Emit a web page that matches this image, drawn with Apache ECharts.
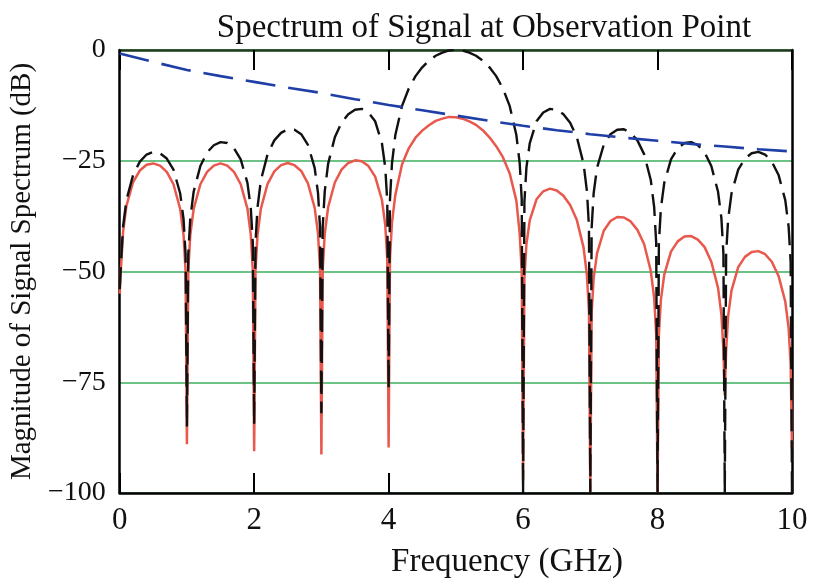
<!DOCTYPE html>
<html>
<head>
<meta charset="utf-8">
<script src="https://cdn.jsdelivr.net/npm/echarts@6/dist/echarts.min.js"></script>
<style>
  html, body { margin: 0; padding: 0; background: #ffffff; }
  #chart { width: 813px; height: 580px; }
</style>
</head>
<body>
<div id="chart"></div>
<script>
// Frequency samples (GHz)
const freq = [
  0,0.02,0.05,0.1,0.2,0.3,0.4,0.5,0.6,0.7,0.8,0.9,0.95,0.98,
  1,1.02,1.05,1.1,1.2,1.3,1.4,1.5,1.6,1.7,1.8,1.9,1.95,1.98,
  2,2.02,2.05,2.1,2.2,2.3,2.4,2.5,2.6,2.7,2.8,2.9,2.95,2.98,
  3,3.02,3.05,3.1,3.2,3.3,3.4,3.5,3.6,3.7,3.8,3.9,3.95,3.98,
  4,4.02,4.05,4.1,4.2,4.3,4.4,4.5,4.6,4.7,4.8,4.9,5,5.1,5.2,5.3,5.4,5.5,5.6,5.7,5.8,5.9,5.95,5.98,
  6,6.02,6.05,6.1,6.2,6.3,6.4,6.5,6.6,6.7,6.8,6.9,6.95,6.98,
  7,7.02,7.05,7.1,7.2,7.3,7.4,7.5,7.6,7.7,7.8,7.9,7.95,7.98,
  8,8.02,8.05,8.1,8.2,8.3,8.4,8.5,8.6,8.7,8.8,8.9,8.95,8.98,
  9,9.02,9.05,9.1,9.2,9.3,9.4,9.5,9.6,9.7,9.8,9.9,9.95,9.98,
  10
];
// Black dashed curve (dB)
const sourceSpectrum = [
  -54,-47.9,-39.9,-33.9,-28.2,-25.2,-23.6,-23.0,-23.3,-24.5,-27.0,-32.4,-38.2,-46.1,
  -85,-46.0,-38.0,-32.0,-26.2,-23.1,-21.5,-20.8,-21.0,-22.2,-24.7,-30.0,-35.7,-43.6,
  -84.5,-43.5,-35.5,-29.4,-23.5,-20.4,-18.7,-17.9,-18.0,-19.0,-21.4,-26.6,-32.3,-40.1,
  -82,-39.9,-31.9,-25.7,-19.7,-16.4,-14.5,-13.5,-13.3,-14.1,-16.1,-21.0,-26.5,-34.2,
  -76.5,-33.8,-25.6,-19.2,-12.6,-8.7,-5.9,-3.9,-2.4,-1.3,-0.6,-0.1,0,-0.1,-0.6,-1.3,-2.4,-3.9,-5.9,-8.7,-12.6,-19.2,-25.6,-33.8,
  -100,-34.2,-26.5,-21.0,-16.1,-14.1,-13.3,-13.5,-14.5,-16.4,-19.7,-25.7,-31.9,-39.9,
  -100,-40.1,-32.3,-26.6,-21.4,-19.0,-18.0,-17.9,-18.7,-20.4,-23.5,-29.4,-35.5,-43.5,
  -100,-43.6,-35.7,-30.0,-24.7,-22.2,-21.0,-20.8,-21.5,-23.1,-26.2,-32.0,-38.0,-46.0,
  -100,-46.1,-38.2,-32.4,-27.0,-24.5,-23.3,-23.0,-23.6,-25.2,-28.2,-33.9,-39.9,-47.9,
  -100
];
// Red solid curve (dB)
const observedSpectrum = [
  -55,-49.0,-41.1,-35.2,-29.8,-27.2,-25.9,-25.6,-26.1,-27.5,-30.3,-35.9,-41.8,-49.8,
  -89,-49.7,-41.8,-35.9,-30.3,-27.5,-26.1,-25.6,-26.1,-27.5,-30.3,-35.8,-41.7,-49.7,
  -90.6,-49.7,-41.8,-35.8,-30.2,-27.4,-26.0,-25.5,-26.0,-27.3,-30.1,-35.6,-41.5,-49.4,
  -91.3,-49.4,-41.5,-35.5,-29.9,-27.0,-25.5,-24.9,-25.1,-26.2,-28.6,-33.8,-39.5,-47.3,
  -89.7,-47.1,-38.9,-32.7,-25.8,-22.2,-19.8,-18.2,-17.0,-16.0,-15.5,-15.1,-15.2,-15.5,-16.1,-16.9,-18.1,-19.7,-21.7,-24.2,-27.8,-34.0,-41.5,-50.0,
  -97,-51.4,-43.8,-38.4,-33.7,-31.9,-31.3,-31.7,-32.9,-35.0,-38.4,-44.6,-50.9,-59.0,
  -100,-59.2,-51.5,-45.9,-40.8,-38.6,-37.7,-37.8,-38.7,-40.6,-43.8,-49.9,-56.0,-64.1,
  -100,-64.2,-56.4,-50.7,-45.5,-43.2,-42.1,-42.0,-42.8,-44.5,-47.8,-53.7,-59.7,-67.8,
  -78,-67.9,-60.1,-54.3,-49.0,-46.7,-45.6,-45.4,-46.1,-47.8,-51.0,-56.8,-62.8,-70.9,
  -90
];
// Blue dashed loss curve (dB)
const lossFreq = [0,0.5,1,1.5,2,2.5,3,3.5,4,4.5,5,5.5,6,6.5,7,7.5,8,8.5,9,9.5,10];
const lossCurve = [-0.8,-2.7,-4.5,-5.9,-7.2,-8.5,-9.7,-11.1,-12.4,-13.6,-14.8,-16.0,-17.1,-18.1,-19.0,-19.8,-20.5,-21.2,-21.8,-22.4,-22.9];

const titleText = 'Spectrum of Signal at Observation Point';
const xName = 'Frequency (GHz)';
const yName = 'Magnitude of Signal Spectrum (dB)';

const pairs = (xs, ys) => xs.map((x, i) => [x, ys[i]]);
const serif = 'Liberation Serif';

const chart = echarts.init(document.getElementById('chart'), null, { renderer: 'canvas' });
chart.setOption({
  animation: false,
  backgroundColor: '#ffffff',
  title: [
    {
      text: titleText,
      left: 479,
      textAlign: 'center',
      top: 7,
      textStyle: { fontFamily: serif, fontSize: 33, fontWeight: 'normal', color: '#111' }
    },
    {
      text: xName,
      left: 502,
      textAlign: 'center',
      top: 541,
      textStyle: { fontFamily: serif, fontSize: 33, fontWeight: 'normal', color: '#111' }
    }
  ],
  grid: { left: 119, right: 21, top: 50, bottom: 87, show: false },
  xAxis: [
    {
      type: 'value', min: 0, max: 10, interval: 2, position: 'bottom',
      axisLine: { show: true, onZero: false, lineStyle: { color: '#000', width: 2.5 } },
      axisTick: { show: true, inside: true, length: 20, lineStyle: { color: '#000', width: 2 } },
      axisLabel: { fontFamily: serif, fontSize: 31, color: '#111', margin: 12 },
      splitLine: { show: false }
    },
    {
      type: 'value', min: 0, max: 10, interval: 2, position: 'top',
      axisLine: { show: true, onZero: false, lineStyle: { color: '#1d3a1d', width: 2.5 } },
      axisTick: { show: true, inside: true, length: 20, lineStyle: { color: '#000', width: 2 } },
      axisLabel: { show: false },
      splitLine: { show: false }
    }
  ],
  yAxis: [
    {
      type: 'value', min: -100, max: 0, interval: 25, position: 'left',
      name: yName, nameLocation: 'middle', nameGap: 77,
      nameTextStyle: { fontFamily: serif, fontSize: 29, color: '#111' },
      axisLine: { show: true, onZero: false, lineStyle: { color: '#000', width: 2.5 } },
      axisTick: { show: false },
      axisLabel: {
        fontFamily: serif, fontSize: 28, color: '#111', margin: 14,
        formatter: v => String(v).replace('-', '\u2212')
      },
      splitLine: { show: true, lineStyle: { color: '#3cae5c', width: 1.5 } }
    },
    {
      type: 'value', min: -100, max: 0, interval: 25, position: 'right',
      axisLine: { show: true, onZero: false, lineStyle: { color: '#000', width: 2.5 } },
      axisTick: { show: false },
      axisLabel: { show: false },
      splitLine: { show: false }
    }
  ],
  series: [
    {
      name: 'observed', type: 'line', data: pairs(freq, observedSpectrum),
      showSymbol: false, symbol: 'none', clip: true,
      lineStyle: { color: '#e8584c', width: 2.5 }, z: 3
    },
    {
      name: 'source', type: 'line', data: pairs(freq, sourceSpectrum),
      showSymbol: false, symbol: 'none', clip: true,
      lineStyle: { color: '#111111', width: 2.4, type: [22, 9] }, z: 4
    },
    {
      name: 'loss', type: 'line', data: pairs(lossFreq, lossCurve),
      showSymbol: false, symbol: 'none', clip: true,
      lineStyle: { color: '#1f3fa6', width: 2.6, type: [30, 13] }, z: 5
    }
  ]
});
</script>
</body>
</html>
